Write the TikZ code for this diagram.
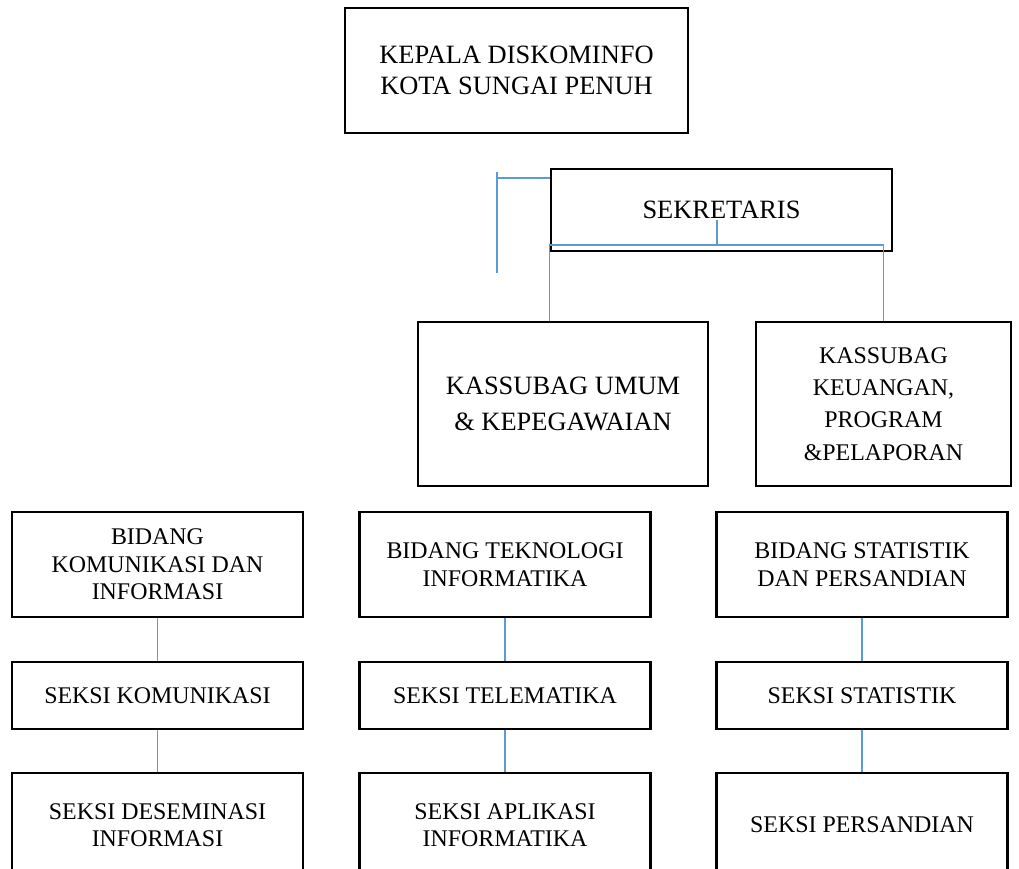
\documentclass[tikz,border=0pt]{standalone}
\usepackage{fontspec}
\setmainfont{Liberation Serif}
\usepackage{tikz}
\usetikzlibrary{positioning}
\definecolor{wordblue}{HTML}{5B9BD5}
\newcommand{\bigtxt}{\fontsize{18.8}{21.8}\selectfont}
\newcommand{\smalltxt}{\fontsize{17}{19.5}\selectfont}

\begin{document}
\begin{tikzpicture}[
    x=0.25mm, y=-0.25mm,
    unit/.style={draw, line width=2pt, align=center, inner sep=0pt},
    head/.style={unit, font=\bigtxt},
    bidang/.style={unit, font=\smalltxt, minimum width=72.75mm, minimum height=26.25mm},
    seksi/.style={unit, font=\smalltxt, minimum width=72.75mm, minimum height=16.75mm},
    lower/.style={unit, font=\smalltxt, minimum width=72.75mm, minimum height=26mm},
    link/.style={draw=wordblue, line width=0.9pt}
  ]
  \path[clip, use as bounding box] (0,0) rectangle (1019,869);

  % top of the chart
  \node[head, minimum width=85.75mm, minimum height=31.25mm] (kepala) at (516.5,70.5)
    {KEPALA DISKOMINFO\\KOTA SUNGAI PENUH};
  \node[head, minimum width=85.25mm, minimum height=20.5mm] (sekretaris) at (721.5,210)
    {SEKRETARIS};
  \node[head, minimum width=72.5mm, minimum height=41mm,
        font=\fontsize{18.8}{26}\selectfont] (umum) at (563,404)
    {KASSUBAG UMUM\\\& KEPEGAWAIAN};
  \node[unit, minimum width=63.75mm, minimum height=41mm,
        font=\fontsize{17}{23}\selectfont] (keuangan) at (883.5,404)
    {KASSUBAG\\KEUANGAN,\\PROGRAM\\\&PELAPORAN};

  \coordinate (stem) at (717,220);
  \coordinate (hub) at (717,245);
  \draw[link] (stem) -- (hub);
  \draw[link] (umum.north -| sekretaris.west) -- (sekretaris.west |- hub)
    -- (keuangan.north |- hub) -- (keuangan.north);
  \coordinate (tick) at (497,178);
  \coordinate (tickend) at (497,273);
  \draw[link] (497,172) -- (tickend);
  \draw[link] (tick) -- (tick -| sekretaris.west);

  % bidang columns
  \node[bidang] (kominfo) at (157.5,564.5) {BIDANG\\KOMUNIKASI DAN\\INFORMASI};
  \node[seksi] (komunikasi) at (157.5,695.5) {SEKSI KOMUNIKASI};
  \node[lower] (deseminasi) at (157.5,825) {SEKSI DESEMINASI\\INFORMASI};

  \node[bidang] (teknologi) at (505,564.5) {BIDANG TEKNOLOGI\\INFORMATIKA};
  \node[seksi] (telematika) at (505,695.5) {SEKSI TELEMATIKA};
  \node[lower] (aplikasi) at (505,825) {SEKSI APLIKASI\\INFORMATIKA};

  \node[bidang] (statistik) at (862,564.5) {BIDANG STATISTIK\\DAN PERSANDIAN};
  \node[seksi] (sekstat) at (862,695.5) {SEKSI STATISTIK};
  \node[lower] (persandian) at (862,825) {SEKSI PERSANDIAN};

  \draw[link] (kominfo) -- (komunikasi);
  \draw[link] (komunikasi) -- (deseminasi);
  \draw[link] (teknologi) -- (telematika);
  \draw[link] (telematika) -- (aplikasi);
  \draw[link] (statistik) -- (sekstat);
  \draw[link] (sekstat) -- (persandian);
\end{tikzpicture}
\end{document}
